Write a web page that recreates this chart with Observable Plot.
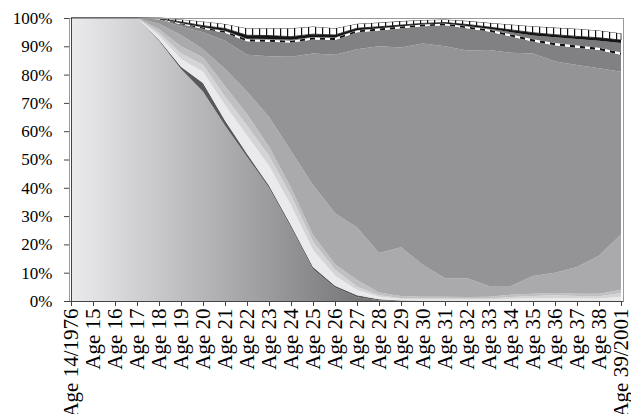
<!DOCTYPE html>
<html>
<head>
<meta charset="utf-8">
<script src="https://cdn.jsdelivr.net/npm/d3@7"></script>
<script src="https://cdn.jsdelivr.net/npm/@observablehq/plot@0.6"></script>
<style>
  html, body { margin: 0; padding: 0; background: #fff; }
  #chart svg { display: block; }
</style>
</head>
<body>
<div id="chart"></div>
<script>
// Categories (x axis)
const ages = ["Age 14/1976","Age 15","Age 16","Age 17","Age 18","Age 19","Age 20","Age 21","Age 22","Age 23","Age 24","Age 25","Age 26","Age 27","Age 28","Age 29","Age 30","Age 31","Age 32","Age 33","Age 34","Age 35","Age 36","Age 37","Age 38","Age 39/2001"];

// Y tick values (percent)
const yTicks = [0,10,20,30,40,50,60,70,80,90,100];

// Series values (share in %, bottom layer first)
const layerA  = [100,100,100,100,92,82,74,62,51,40,26,11.2,4.8,1.3,0.3,0,0,0,0,0,0,0,0,0,0,0];
const layerB  = [0,0,0,0,0.3,0.8,3,1.8,1,0.8,0.8,0.8,0.6,0.7,0.3,0.15,0.1,0.1,0.1,0.1,0.1,0.1,0.1,0.1,0.1,0.1];
const layerC  = [0,0,0,0,1.5,2.7,4,5.5,6.5,7,7,6,3.6,1.9,0.9,0.55,0.4,0.4,0.4,0.4,0.7,0.9,1.0,0.9,0.8,1.4];
const layerD  = [0,0,0,0,1.0,2.0,2.5,3,3.5,3.5,3.5,3,2.1,1.1,0.5,0.4,0.4,0.4,0.3,0.4,0.6,0.8,0.9,0.8,0.8,1.3];
const layerE  = [0,0,0,0,1.2,2.5,2.5,3.7,4,3.2,2.7,2.3,1.9,2.4,1.0,0.7,0.6,0.6,0.6,0.6,0.8,0.8,0.8,0.8,0.9,1.2];
const layerF  = [0,0,0,0,2.0,4.0,3,6,8,10.5,13,17.7,18,18.6,14,17.2,11.2,6.5,6.6,3.8,3.1,6.2,7.2,9.4,13.4,19.5];
const layerG  = [0,0,0,0,1.5,3.0,6,10,13,21.5,33.3,46.5,56,63,73,70.6,78.3,82,80.5,83.4,82.4,78.7,74.6,71.4,66.2,57.5];
const layerH  = [0,0,0,0,0.1,0.8,1.2,2.8,4.8,5.1,5,4.9,5.2,6,5.6,6.8,6.1,7.4,7.9,6.5,5.8,4.2,5.8,6.1,6.5,6];
const layerI  = [0,0,0,0,0.1,0.3,0.4,0.5,0.7,0.7,0.7,0.7,0.7,0.6,0.7,0.6,0.6,0.6,0.6,0.7,0.7,0.8,0.8,0.8,0.8,0.8];
const layerI2 = [0,0,0,0,0,0.1,0.1,0.2,0.2,0.3,0.3,0.2,0.2,0.1,0.1,0.1,0.1,0.1,0.2,0.3,0.8,1.3,2.0,2.3,2.5,3.4];
const layerJ  = [0,0,0,0,0.1,0.4,0.6,0.8,1.2,1.2,1.1,1.0,0.9,0.7,0.5,0.4,0.3,0.3,0.5,0.6,0.8,1.0,0.9,0.9,1.0,1.0];
const layerK  = [0,0,0,0,0.2,0.9,1.5,1.6,2.5,2.6,3.0,2.7,2.4,1.6,1.5,1.4,1.2,1.1,1.3,1.5,1.9,2.3,2.5,2.7,2.6,2.4];
const layerL  = [0,0,0,0,0,0.5,1.2,1.8,3.6,3.6,3.6,3,3.6,2,1.6,1.1,0.7,0.5,1,1.7,2.3,2.9,3.4,3.8,4.4,5.4];

const seriesNames = ["A","B","C","D","E","F","G","H","I","I2","J","K","L"];
const seriesValues = [layerA,layerB,layerC,layerD,layerE,layerF,layerG,layerH,layerI,layerI2,layerJ,layerK,layerL];
const seriesFills = ["url(#gradA)","#58585a","#eaeaec","#d4d4d6","#c0c0c2","#aaaaac","#949496","#818184","url(#dash)","#7a7a7d","#161616","url(#chk)","#ffffff"];

const data = seriesNames.flatMap((name, s) =>
  ages.map((age, i) => ({age, series: name, value: seriesValues[s][i]}))
);

const chart = Plot.plot({
  width: 631,
  height: 414,
  marginLeft: 69,
  marginRight: 8,
  marginTop: 18,
  marginBottom: 113,
  style: {fontFamily: "'Liberation Serif', 'Times New Roman', serif", color: "#000", background: "#fff"},
  x: {type: "point", domain: ages, padding: 0},
  y: {domain: [0, 100]},
  color: {type: "ordinal", domain: seriesNames, range: seriesFills},
  marks: [
    Plot.areaY(data, {x: "age", y: "value", z: "series", fill: "series", curve: "linear"}),
    Plot.frame({stroke: "#9a9a9a", strokeWidth: 1}),
    Plot.ruleX([ages[0]], {stroke: "#444"}),
    Plot.ruleY([0], {stroke: "#444"}),
    Plot.axisY({ticks: yTicks, tickFormat: d => `${d}%`, tickSize: 5, tickPadding: 12, fontSize: 17, label: null, stroke: "#444"}),
    Plot.axisX({ticks: ages, tickRotate: -90, tickSize: 5, tickPadding: 2, fontSize: 21, label: null, stroke: "#444"})
  ]
});

// Pattern / gradient definitions (positions taken from the x scale)
const xs = chart.scale("x");
const gx1 = xs.apply(ages[0]);
const gx2 = xs.apply("Age 28");
const svg = d3.select(chart);
const defs = svg.insert("defs", ":first-child");
const grad = defs.append("linearGradient").attr("id", "gradA")
  .attr("gradientUnits", "userSpaceOnUse")
  .attr("x1", gx1).attr("x2", gx2).attr("y1", 0).attr("y2", 0);
grad.append("stop").attr("offset", "0%").attr("stop-color", "#ebebed");
grad.append("stop").attr("offset", "100%").attr("stop-color", "#6f6f71");

const dash = defs.append("pattern").attr("id", "dash")
  .attr("patternUnits", "userSpaceOnUse").attr("width", 10).attr("height", 10);
dash.append("rect").attr("width", 10).attr("height", 10).attr("fill", "#fff");
dash.append("rect").attr("width", 5).attr("height", 10).attr("fill", "#111");

const chk = defs.append("pattern").attr("id", "chk")
  .attr("patternUnits", "userSpaceOnUse").attr("width", 7).attr("height", 10);
chk.append("rect").attr("width", 7).attr("height", 10).attr("fill", "#fff");
chk.append("rect").attr("width", 1.2).attr("height", 10).attr("fill", "#111");

svg.selectAll("path").filter(function() { return this.getAttribute("fill") === "url(#chk)"; })
  .attr("stroke", "#111").attr("stroke-width", 0.8);

document.getElementById("chart").appendChild(chart);
</script>
</body>
</html>
